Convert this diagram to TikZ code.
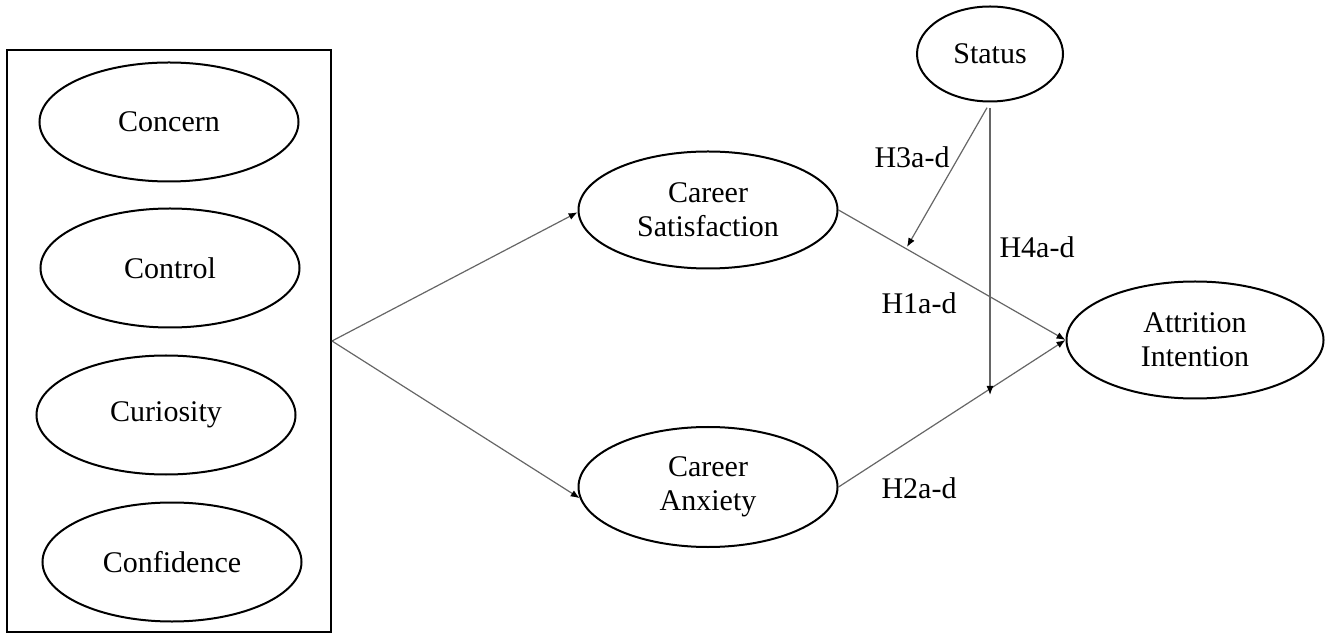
\documentclass[tikz,border=0pt]{standalone}
\usepackage{fontspec}
\setmainfont{Liberation Serif}
\usetikzlibrary{shapes.geometric,arrows.meta}

\begin{document}
\begin{tikzpicture}[x=0.5pt, y=-0.5pt,
	construct/.style={ellipse, draw, line width=1pt, inner sep=0pt, align=center, font=\fontsize{15}{17}\selectfont},
	link/.style={draw=black!60, line width=0.6pt, -{Latex[length=4.5pt,width=3.5pt,color=black]}},
	hyp/.style={font=\fontsize{15}{17}\selectfont}]
	\def\pxl{0.5pt}
	\useasboundingbox (0,0) rectangle (1331,640);

	\node (box) [draw, line width=1pt, minimum width=324*\pxl, minimum height=582*\pxl, inner sep=0pt] at (169,341) {};
	\foreach \nm/\txt/\cx/\cy in {concern/Concern/169/122, control/Control/170/268, curiosity/Curiosity/166/415, confidence/Confidence/172/562}
		\node (\nm) [construct, minimum width=259*\pxl, minimum height=119*\pxl] at (\cx,\cy) {\txt};

	\node (sat) [construct, minimum width=259*\pxl, minimum height=117*\pxl] at (708,210) {Career\\Satisfaction};
	\node (anx) [construct, minimum width=259*\pxl, minimum height=120*\pxl] at (708,487) {Career\\Anxiety};
	\node (att) [construct, minimum width=257*\pxl, minimum height=117*\pxl] at (1195,340) {Attrition\\Intention};
	\node (stat) [construct, minimum width=146*\pxl, minimum height=95*\pxl] at (990,54) {Status};

	\draw[link] (box.east) -- (sat.181);
	\draw[link] (box.east) -- (anx.185);
	\draw[link] (sat.east) -- (att.west);
	\draw[link] (anx.east) -- (att.west);

	% moderation by status
	\coordinate (m3) at (907,247);
	\coordinate (m4) at (990,395);
	\draw[link, shorten <=3pt] (stat.south) -- (m3);
	\draw[link, shorten <=3pt] (stat.south) -- (m4);

	\node (h1) [hyp] at (919,303) {H1a-d};
	\node (h2) [hyp] at (919,488) {H2a-d};
	\node (h3) [hyp] at (912,157) {H3a-d};
	\node (h4) [hyp] at (1037,247) {H4a-d};
\end{tikzpicture}
\end{document}
